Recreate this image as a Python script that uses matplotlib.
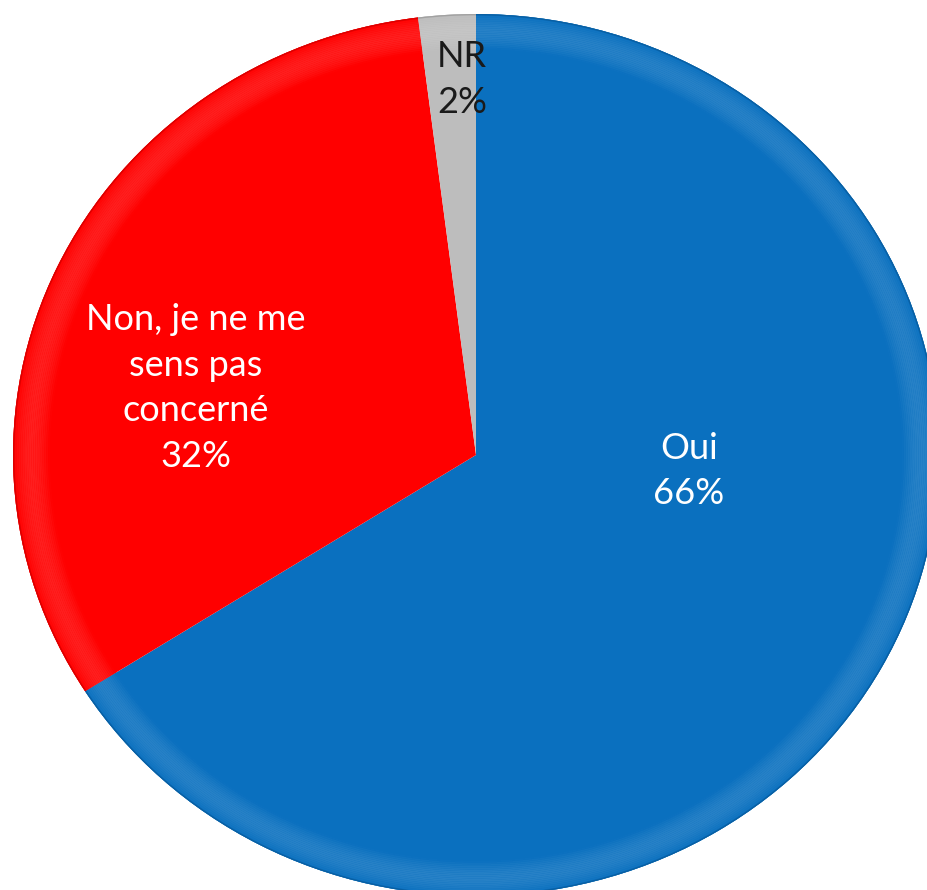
import matplotlib.pyplot as plt
import numpy as np
from matplotlib.patches import Wedge

# survey answers, clockwise from 12 o'clock
categories = ["Oui", "Non, je ne me\nsens pas\nconcerné", "NR"]
shares = [66, 32, 2]
colors = ["#0A70BF", "#FF0000", "#BDBDBD"]
text_colors = ["white", "white", "#1A1A1A"]
label_pos = [(0.46, -0.036), (-0.605, 0.152), (-0.03, 0.851)]  # where Excel put them

plt.rcParams["font.family"] = ["Lato", "DejaVu Sans"]

fig = plt.figure(figsize=(9.27, 8.9), dpi=100)
# the source picture was stretched a little sideways, so the pie is an ellipse
ax = fig.add_axes([0.01402, -0.00674, 0.99892, 0.99101])

wedges, _ = ax.pie(shares, colors=colors, startangle=90, counterclock=False,
                   radius=1, wedgeprops=dict(linewidth=0))
ax.set_xlim(-1, 1)
ax.set_ylim(-1, 1)
ax.set_aspect("auto")
ax.axis("off")

# soft bevel: slightly lighter band just inside the rim, dark outer line
for w in wedges:
    t1, t2 = w.theta1, w.theta2
    base = np.array(plt.matplotlib.colors.to_rgb(w.get_facecolor()))
    for k in range(20):
        light = 0.12 * np.sin(np.pi * (k + 0.5) / 20)
        c = base + (1 - base) * light
        ax.add_patch(Wedge((0, 0), 1 - k * 0.004, t1, t2, width=0.004,
                           facecolor=c, edgecolor="none"))
    ax.add_patch(Wedge((0, 0), 1.0, t1, t2, width=0.003,
                       facecolor=base * 0.85, edgecolor="none"))

for name, pct, (x, y), tc in zip(categories, shares, label_pos, text_colors):
    ax.text(x, y, f"{name}\n{pct}%", ha="center", va="center", color=tc,
            fontsize=26, linespacing=1.47)

fig.savefig("out.png", dpi=100)
